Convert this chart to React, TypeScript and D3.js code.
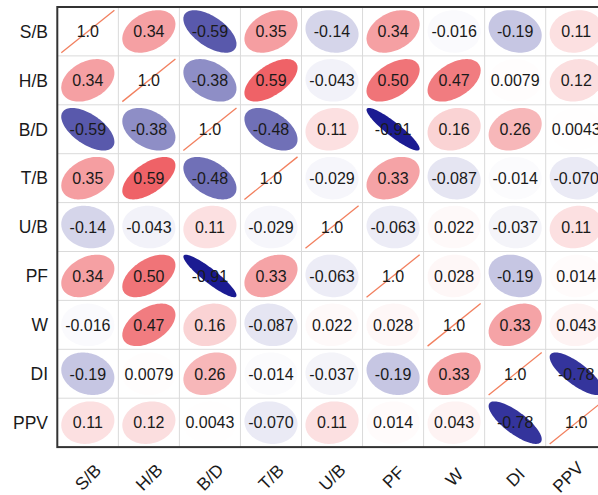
import React, { useEffect, useRef } from 'react';
import * as d3 from 'd3';

// variable names (rows and columns)
const variables = ['S/B', 'H/B', 'B/D', 'T/B', 'U/B', 'PF', 'W', 'DI', 'PPV'];

// correlation rows
const rowSB = [1.0, 0.34, -0.59, 0.35, -0.14, 0.34, -0.016, -0.19, 0.11];
const rowHB = [0.34, 1.0, -0.38, 0.59, -0.043, 0.5, 0.47, 0.0079, 0.12];
const rowBD = [-0.59, -0.38, 1.0, -0.48, 0.11, -0.91, 0.16, 0.26, 0.0043];
const rowTB = [0.35, 0.59, -0.48, 1.0, -0.029, 0.33, -0.087, -0.014, -0.07];
const rowUB = [-0.14, -0.043, 0.11, -0.029, 1.0, -0.063, 0.022, -0.037, 0.11];
const rowPF = [0.34, 0.5, -0.91, 0.33, -0.063, 1.0, 0.028, -0.19, 0.014];
const rowW = [-0.016, 0.47, 0.16, -0.087, 0.022, 0.028, 1.0, 0.33, 0.043];
const rowDI = [-0.19, 0.0079, 0.26, -0.014, -0.037, -0.19, 0.33, 1.0, -0.78];
const rowPPV = [0.11, 0.12, 0.0043, -0.07, 0.11, 0.014, 0.043, -0.78, 1.0];

const matrix = [rowSB, rowHB, rowBD, rowTB, rowUB, rowPF, rowW, rowDI, rowPPV];

const CorrPlot = () => {
  const svgRef = useRef<SVGSVGElement>(null);

  useEffect(() => {
    const svg = d3.select(svgRef.current);
    const width = 598;
    const left = 57.3;
    const top = 7;
    const cellW = 61.05;
    const cellH = 48.9;
    const font = "Arial, 'Liberation Sans', Helvetica, sans-serif";

    const x = d3
      .scaleBand<string>()
      .domain(variables)
      .range([left, left + cellW * variables.length]);
    const y = d3
      .scaleBand<string>()
      .domain(variables)
      .range([top, top + cellH * variables.length]);

    const color = d3
      .scaleLinear<string>()
      .domain([-1, -0.5, 0, 0.5, 1])
      .range(['#0a0a8a', '#6a6ab4', '#ffffff', '#f07478', '#e8101c'])
      .interpolate(d3.interpolateRgb);

    const fmt = d3.formatLocale({
      decimal: '.',
      thousands: ',',
      grouping: [3],
      currency: ['', ''],
      minus: '-',
    }).format('.2g');

    const cells = matrix.flatMap((row, i) =>
      row.map((r, j) => ({ r, row: variables[i], col: variables[j] }))
    );

    const g = svg.append('g');

    // grid lines
    const grid = g.append('g').attr('stroke', '#dadada').attr('stroke-width', 1);
    variables.slice(1).forEach((v) => {
      grid
        .append('line')
        .attr('x1', x(v)!)
        .attr('x2', x(v)!)
        .attr('y1', top)
        .attr('y2', top + cellH * 9);
      grid
        .append('line')
        .attr('y1', y(v)!)
        .attr('y2', y(v)!)
        .attr('x1', left)
        .attr('x2', left + cellW * 9);
    });

    // ellipses
    const ts = d3.range(0, 101).map((k) => (k / 100) * 2 * Math.PI);
    const sx = cellW * 0.435;
    const sy = cellH * 0.435;
    const shape = d3.line<[number, number]>();

    cells.forEach((c) => {
      const cx = x(c.col)! + cellW / 2;
      const cy = y(c.row)! + cellH / 2;
      const d = Math.acos(Math.max(-1, Math.min(1, c.r)));
      const pts: [number, number][] = ts.map((t) => [
        cx + sx * Math.cos(t + d / 2),
        cy - sy * Math.cos(t - d / 2),
      ]);
      if (c.r >= 0.999) {
        g.append('line')
          .attr('x1', cx - sx)
          .attr('y1', cy + sy)
          .attr('x2', cx + sx)
          .attr('y2', cy - sy)
          .attr('stroke', '#f2805f')
          .attr('stroke-width', 1.3);
      } else {
        g.append('path')
          .attr('d', shape(pts)!)
          .attr('fill', color(c.r))
          .attr('stroke', 'none');
      }
    });

    // values
    g.append('g')
      .selectAll('text')
      .data(cells)
      .enter()
      .append('text')
      .attr('x', (c) => x(c.col)! + cellW / 2)
      .attr('y', (c) => y(c.row)! + cellH / 2)
      .attr('dy', '0.36em')
      .attr('text-anchor', 'middle')
      .attr('font-family', font)
      .attr('font-size', 16)
      .attr('fill', '#1a1a1a')
      .text((c) => fmt(c.r));

    // border
    g.append('rect')
      .attr('x', left)
      .attr('y', top)
      .attr('width', cellW * 9)
      .attr('height', cellH * 9)
      .attr('fill', 'none')
      .attr('stroke', '#333')
      .attr('stroke-width', 2);

    // row labels
    g.append('g')
      .selectAll('text')
      .data(variables)
      .enter()
      .append('text')
      .attr('x', 48)
      .attr('y', (v) => y(v)! + cellH / 2)
      .attr('dy', '0.36em')
      .attr('text-anchor', 'end')
      .attr('font-family', font)
      .attr('font-size', 17.5)
      .attr('fill', '#1a1a1a')
      .text((v) => v);

    // column labels (rotated, kept inside the picture)
    g.append('g')
      .selectAll('text')
      .data(variables)
      .enter()
      .append('text')
      .attr('transform', (v) => {
        const cx = Math.min(x(v)! + cellW / 2, width - 30);
        return `translate(${cx},${477}) rotate(-45)`;
      })
      .attr('dy', '0.36em')
      .attr('text-anchor', 'middle')
      .attr('font-family', font)
      .attr('font-size', 17.5)
      .attr('fill', '#1a1a1a')
      .text((v) => v);

    return () => {
      svg.selectAll('*').remove();
    };
  }, []);

  return (
    <svg
      ref={svgRef}
      width={598}
      height={495}
      style={{ position: 'absolute', left: 0, top: 0, background: '#fff' }}
    ></svg>
  );
};

export default function App() {
  return <CorrPlot />;
}
